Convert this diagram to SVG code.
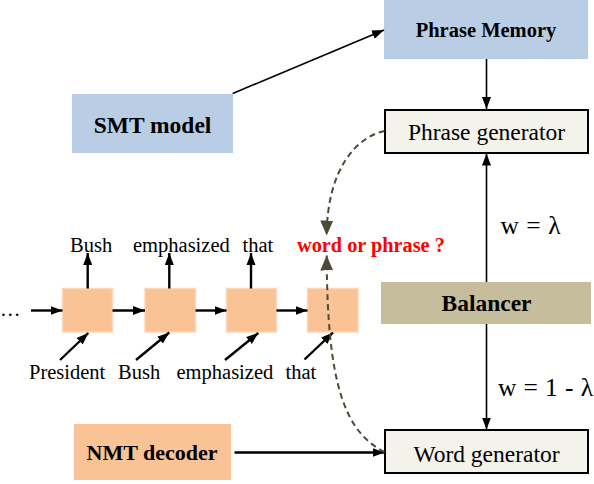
<svg xmlns="http://www.w3.org/2000/svg" width="594" height="484" viewBox="0 0 594 484">
<style>
text{font-family:"Liberation Serif","Times New Roman",serif;fill:#000}
.b{font-weight:bold}
.ln{stroke:#000;fill:none;stroke-width:1.6}
.th{stroke:#000;fill:none;stroke-width:2.4}
.ds{stroke:#4d4a35;fill:none;stroke-width:2;stroke-dasharray:6,4}
.cell{fill:#f9c396;stroke:#fbd6b8;stroke-width:1.5}
.gen{fill:#f3f2eb;stroke:#000;stroke-width:2}
</style>
<defs>
<marker id="a" markerUnits="userSpaceOnUse" markerWidth="12" markerHeight="12" viewBox="0 0 12 12" refX="12" refY="6" orient="auto"><path d="M0,1.5 L12,6 L0,10.5 Z" fill="#000"/></marker>
<marker id="d" markerUnits="userSpaceOnUse" markerWidth="16" markerHeight="16" viewBox="0 0 16 16" refX="15" refY="8" orient="auto"><path d="M0,1.5 L15,8 L0,14.5 Z" fill="#4d4a35"/></marker>
</defs>

<g id="smt">
<rect x="72" y="94" width="161" height="59" fill="#b9cee5"/>
<text class="b" x="152.5" y="133" font-size="23.5" text-anchor="middle">SMT model</text>
</g>
<g id="memory">
<rect x="384" y="0" width="204" height="59" fill="#b9cee5"/>
<text class="b" x="486" y="37" font-size="20.5" text-anchor="middle">Phrase Memory</text>
</g>
<g id="phrasegen">
<rect class="gen" x="385" y="110" width="203" height="43"/>
<text x="486.5" y="140" font-size="23.5" text-anchor="middle">Phrase generator</text>
</g>
<g id="balancer">
<rect x="381" y="282" width="210" height="42" fill="#c5bd9b"/>
<text class="b" x="486.5" y="311" font-size="23.5" text-anchor="middle">Balancer</text>
</g>
<g id="wordgen">
<rect class="gen" x="385" y="430" width="203" height="43"/>
<text x="486.5" y="462" font-size="23.5" text-anchor="middle">Word generator</text>
</g>
<g id="nmt">
<rect x="74" y="424" width="157" height="56" fill="#f9c396"/>
<text class="b" x="152" y="460" font-size="22" text-anchor="middle">NMT decoder</text>
</g>
<g id="cell1"><rect class="cell" x="62.5" y="288.5" width="50" height="43.5"/></g>
<g id="cell2"><rect class="cell" x="145" y="288.5" width="50.5" height="43.5"/></g>
<g id="cell3"><rect class="cell" x="226.5" y="288.5" width="50" height="43.5"/></g>
<g id="cell4"><rect class="cell" x="307.5" y="288.5" width="50.5" height="43.5"/></g>

<g id="labels" font-size="20.5">
<text x="0" y="316">…</text>
<text x="70" y="251.5">Bush</text>
<text x="133" y="251.5">emphasized</text>
<text x="242.5" y="251.5">that</text>
<text class="b" x="297" y="251.5" font-size="20.3" style="fill:#ff0000">word or phrase ?</text>
<text x="29" y="378.5">President</text>
<text x="118" y="378.5">Bush</text>
<text x="176.5" y="378.5">emphasized</text>
<text x="285.5" y="378.5">that</text>
<text x="500.5" y="234" font-size="25.5" textLength="60">w = λ</text>
<text x="498" y="396" font-size="25.5" textLength="95">w = 1 - λ</text>
</g>

<g id="connectors">
<line class="ln" x1="232.7" y1="93.5" x2="384" y2="30" marker-end="url(#a)"/>
<line class="ln" x1="486.5" y1="59" x2="486.5" y2="109" marker-end="url(#a)"/>
<line class="ln" x1="486.5" y1="282" x2="486.5" y2="153.5" marker-end="url(#a)"/>
<line class="ln" x1="486.5" y1="324" x2="486.5" y2="429.5" marker-end="url(#a)"/>
<line class="th" x1="234.5" y1="452.5" x2="384.5" y2="452.5" marker-end="url(#a)"/>
<line class="th" x1="31" y1="310.5" x2="62.5" y2="310.5" marker-end="url(#a)"/>
<line class="th" x1="112.5" y1="310.5" x2="145" y2="310.5" marker-end="url(#a)"/>
<line class="th" x1="195.5" y1="310.5" x2="226.5" y2="310.5" marker-end="url(#a)"/>
<line class="th" x1="276.5" y1="310.5" x2="307.5" y2="310.5" marker-end="url(#a)"/>
<line class="th" x1="87.7" y1="288.5" x2="87.7" y2="253" marker-end="url(#a)"/>
<line class="th" x1="169.3" y1="288.5" x2="169.3" y2="253" marker-end="url(#a)"/>
<line class="th" x1="251" y1="288.5" x2="251" y2="253" marker-end="url(#a)"/>
<line class="th" x1="60" y1="360" x2="88.3" y2="333" marker-end="url(#a)"/>
<line class="th" x1="136" y1="360" x2="169.3" y2="332.5" marker-end="url(#a)"/>
<line class="th" x1="225" y1="360" x2="258.3" y2="333" marker-end="url(#a)"/>
<line class="th" x1="304.5" y1="359.5" x2="333" y2="332.5" marker-end="url(#a)"/>
<path class="ds" d="M384.5,131 C356,137 327,170 326.7,235.5" marker-end="url(#d)"/>
<path class="ds" d="M384.5,452 C345,432 327,385 326.7,255.5" marker-end="url(#d)"/>
</g>
</svg>
